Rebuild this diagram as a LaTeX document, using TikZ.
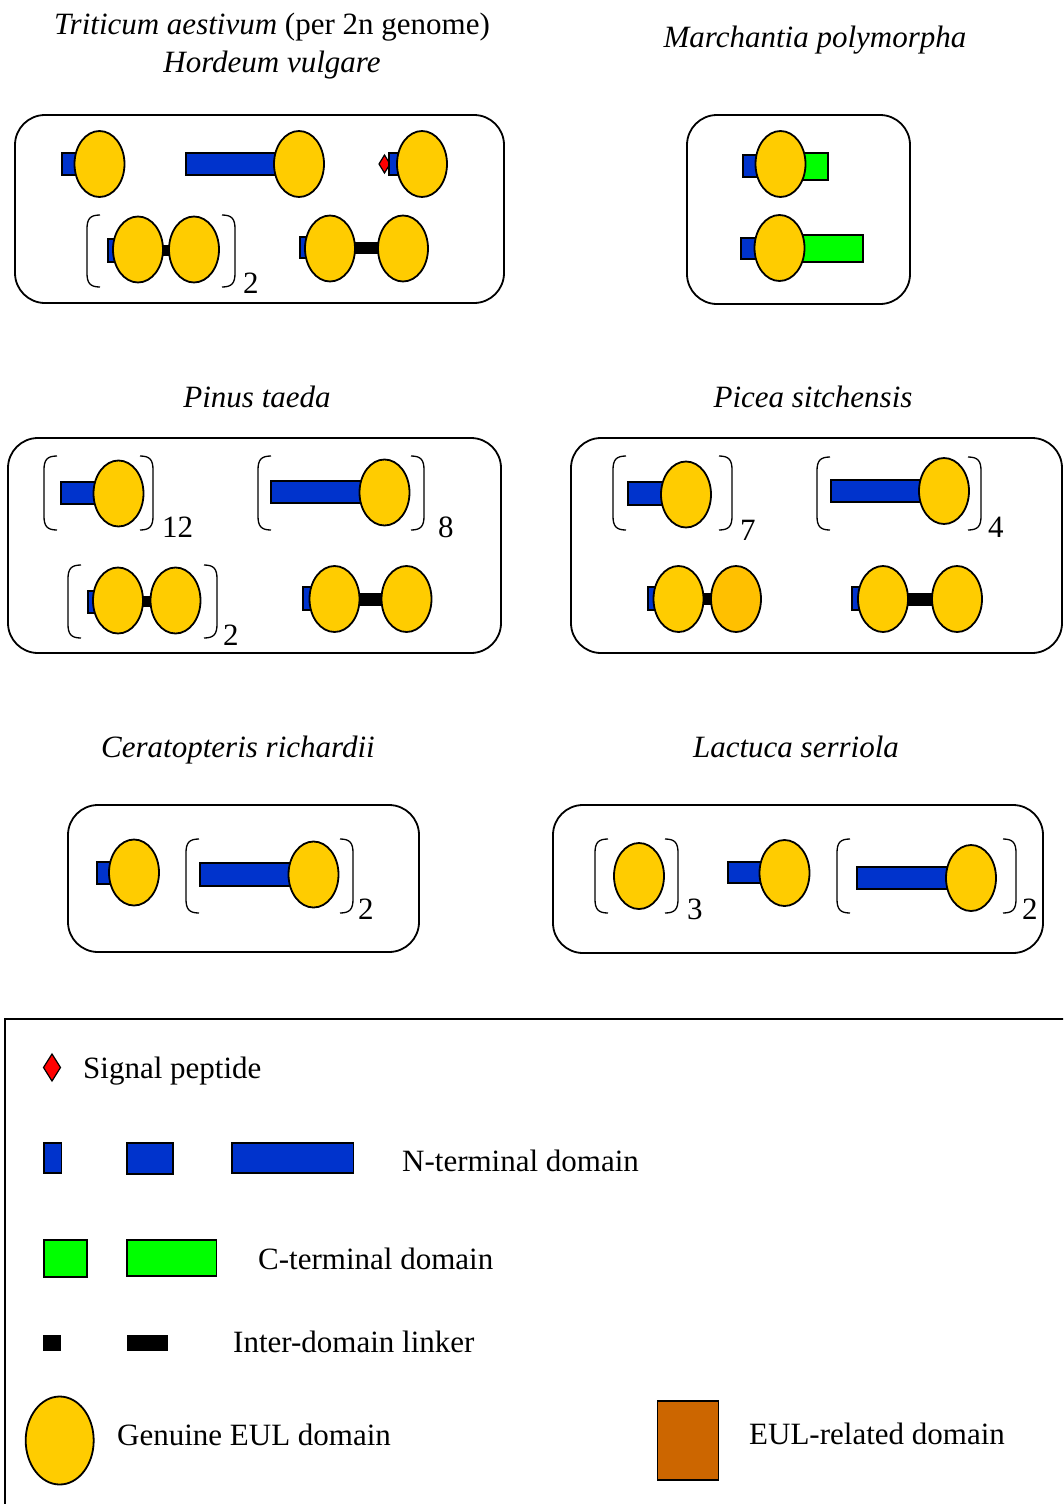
\documentclass[tikz,border=0pt]{standalone}
\usepackage{fontspec}
\setmainfont{Liberation Serif}
\usetikzlibrary{shapes.geometric}
\definecolor{ntblue}{RGB}{0,51,204}
\definecolor{ctgreen}{RGB}{0,255,0}
\definecolor{eulyel}{RGB}{255,204,0}
\definecolor{euldark}{RGB}{255,192,0}
\definecolor{eulrel}{RGB}{204,102,0}
\newcommand\ttlfont{\fontsize{31}{37}\selectfont}
\newcommand\lbrkt[3]{\draw[brk] ({#1+13},#2) .. controls ({#1+3},#2) and (#1,{#2+4}) .. (#1,{#2+14}) -- (#1,{#3-14}) .. controls (#1,{#3-4}) and ({#1+3},#3) .. ({#1+13},#3);}
\newcommand\rbrkt[3]{\draw[brk] ({#1-13},#2) .. controls ({#1-3},#2) and (#1,{#2+4}) .. (#1,{#2+14}) -- (#1,{#3-14}) .. controls (#1,{#3-4}) and ({#1-3},#3) .. ({#1-13},#3);}
\tikzset{
  nt/.style={fill=ntblue, draw=black, line width=1.5pt},
  ct/.style={fill=ctgreen, draw=black, line width=1.5pt},
  lk/.style={fill=black},
  sig/.style={fill=red, draw=black, line width=1.2pt},
  eul/.style={ellipse, draw=black, fill=eulyel, line width=1.8pt, minimum width=50pt, minimum height=66pt, inner sep=0pt},
  grp/.style={draw=black, line width=1.8pt, rounded corners=30pt},
  brk/.style={draw=black, line width=1.3pt},
  ttl/.style={font=\ttlfont, anchor=base, inner sep=0pt},
  sub/.style={font=\ttlfont, anchor=base west, inner sep=0pt},
  lgd/.style={font=\ttlfont, anchor=base west, inner sep=0pt}
}
\begin{document}
\begin{tikzpicture}[x=1pt,y=-1pt]
\useasboundingbox (0,0) rectangle (1063,1504);
\clip (0,0) rectangle (1063,1504);
% titles
\node[ttl] (t1) at (272,35) {\textit{Triticum aestivum} (per 2n genome)};
\node[ttl] (t2) at (272,72) {\textit{Hordeum vulgare}};
\node[ttl] (t3) at (815,48) {\textit{Marchantia polymorpha}};
\node[ttl] (t4) at (257,407) {\textit{Pinus taeda}};
\node[ttl] (t5) at (813,407) {\textit{Picea sitchensis}};
\node[ttl] (t6) at (238,757) {\textit{Ceratopteris richardii}};
\node[ttl] (t7) at (796,757) {\textit{Lactuca serriola}};
% box 1 Triticum / Hordeum
\draw[grp] (15,115) rectangle (504,303);
\draw[nt] (62,153) rectangle (82,175);
\node[eul] (a1) at (99.5,164) {};
\draw[nt] (186,153) rectangle (282,175);
\node[eul] (a2) at (299,164) {};
\filldraw[sig] (379,164) -- (384.5,155) -- (390,164) -- (384.5,173) -- cycle;
\draw[nt] (389,153) rectangle (399,175);
\node[eul] (a3) at (422,164) {};
\lbrkt{87}{215}{287}
\draw[nt] (108,239) rectangle (120,262);
\fill[lk] (158,245) rectangle (174,256);
\node[eul] (a4) at (138,249.5) {};
\node[eul] (a5) at (194,249.5) {};
\rbrkt{235}{215}{287}
\node[sub] (s1) at (243,293) {2};
\draw[nt] (300,237) rectangle (312,258);
\fill[lk] (350,242) rectangle (384,254);
\node[eul] (a6) at (330,248.5) {};
\node[eul] (a7) at (403,248.5) {};
% box 2 Marchantia
\draw[grp] (687,115) rectangle (910,304);
\draw[nt] (743,155) rectangle (762,177);
\draw[ct] (800,153) rectangle (828,180);
\node[eul] (b1) at (780.5,164) {};
\draw[nt] (741,238) rectangle (762,259);
\draw[ct] (800,235) rectangle (863,262);
\node[eul] (b2) at (779.5,248) {};
% box 3 Pinus
\draw[grp] (8,438) rectangle (501,653);
\lbrkt{44}{456}{530}
\draw[nt] (61,482) rectangle (100,504);
\node[eul] (c1) at (118.5,493.5) {};
\rbrkt{153}{456}{530}
\node[sub] (s2) at (162,537) {12};
\lbrkt{258}{456}{530}
\draw[nt] (271,481) rectangle (366,503);
\node[eul] (c2) at (384.5,492.5) {};
\rbrkt{424}{456}{530}
\node[sub] (s3) at (438,537) {8};
\lbrkt{68}{565}{638}
\draw[nt] (88,591) rectangle (100,613);
\fill[lk] (138,596) rectangle (154,607);
\node[eul] (c3) at (118,600.5) {};
\node[eul] (c4) at (175.5,600.5) {};
\rbrkt{217}{565}{638}
\node[sub] (s4) at (223,645) {2};
\draw[nt] (303,587) rectangle (316,610);
\fill[lk] (354,593) rectangle (387,606);
\node[eul] (c5) at (334.5,599) {};
\node[eul] (c6) at (406.5,599) {};
% box 4 Picea
\draw[grp] (571,438) rectangle (1062,653);
\lbrkt{613}{456}{530}
\draw[nt] (628,482) rectangle (667,505);
\node[eul] (d1) at (686,494.5) {};
\rbrkt{732}{456}{530}
\node[sub] (s5) at (740,540) {7};
\lbrkt{817}{457}{530}
\draw[nt] (831,480) rectangle (926,502);
\node[eul] (d2) at (944,491) {};
\rbrkt{981}{457}{530}
\node[sub] (s6) at (988,537) {4};
\draw[nt] (648,587) rectangle (660,610);
\fill[lk] (698,593) rectangle (716,605);
\node[eul] (d3) at (678.5,599) {};
\node[eul, fill=euldark] (d4) at (736,599) {};
\draw[nt] (852,587) rectangle (864,610);
\fill[lk] (903,593) rectangle (937,606);
\node[eul] (d5) at (883,599) {};
\node[eul] (d6) at (957,599) {};
% box 5 Ceratopteris
\draw[grp] (68,805) rectangle (419,952);
\draw[nt] (97,862) rectangle (114,884);
\node[eul] (f1) at (134,872.5) {};
\lbrkt{186}{839}{913}
\draw[nt] (200,863) rectangle (294,886);
\node[eul] (f2) at (313.5,874.5) {};
\rbrkt{353}{839}{913}
\node[sub] (s7) at (358,919) {2};
% box 6 Lactuca
\draw[grp] (553,805) rectangle (1043,953);
\lbrkt{595}{839}{913}
\node[eul] (g1) at (639,876) {};
\rbrkt{678}{839}{913}
\node[sub] (s8) at (687,919) {3};
\draw[nt] (728,862) rectangle (764,883);
\node[eul] (g2) at (784.5,873) {};
\lbrkt{837}{839}{913}
\draw[nt] (857,867) rectangle (950,889);
\node[eul] (g3) at (971,878) {};
\rbrkt{1016}{839}{913}
\node[sub] (s9) at (1022,919) {2};
% legend
\draw[draw=black, line width=1.8pt] (5,1019) rectangle (1080,1520);
\filldraw[sig] (43.5,1067.5) -- (52,1054) -- (60.5,1067.5) -- (52,1081) -- cycle;
\node[lgd] (l1) at (83,1078) {Signal peptide};
\draw[nt] (44,1143) rectangle (61.5,1173);
\draw[nt] (127,1143) rectangle (173,1174);
\draw[nt] (232,1143) rectangle (353.5,1173);
\node[lgd] (l2) at (402,1171) {N-terminal domain};
\draw[ct] (44,1240) rectangle (87,1277);
\draw[ct] (127,1240) rectangle (216.5,1276);
\node[lgd] (l3) at (258,1269) {C-terminal domain};
\fill[lk] (43,1335) rectangle (61,1351);
\fill[lk] (127,1335) rectangle (167.5,1351);
\node[lgd] (l4) at (233,1352) {Inter-domain linker};
\node[eul, minimum width=68pt, minimum height=88pt] (le) at (59.7,1440.5) {};
\node[lgd] (l5) at (117,1445) {Genuine EUL domain};
\draw[fill=eulrel, draw=black, line width=1.5pt] (657.6,1401) rectangle (718.6,1480);
\node[lgd] (l6) at (749,1444) {EUL-related domain};
\end{tikzpicture}
\end{document}
